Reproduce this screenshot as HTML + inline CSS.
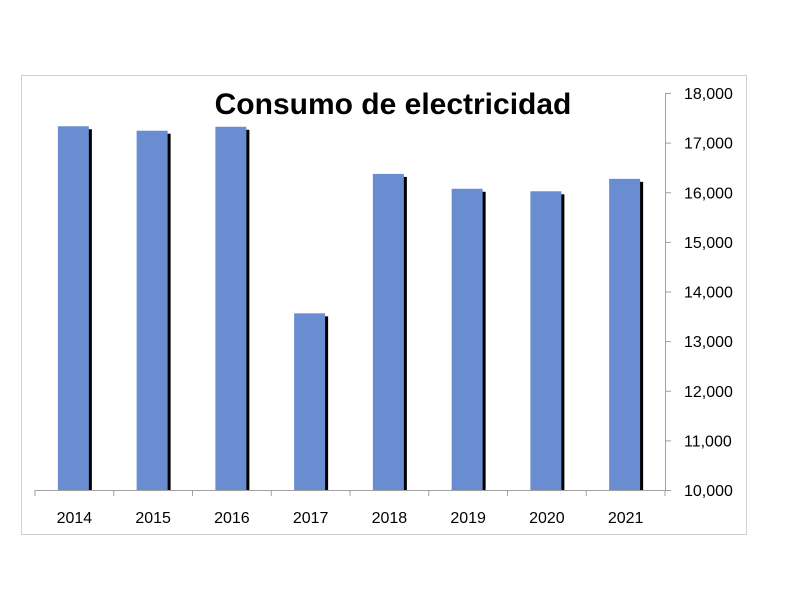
<!DOCTYPE html>
<html><head><meta charset="utf-8"><style>
body{margin:0;background:#fff;}
svg{display:block;font-family:"Liberation Sans",Calibri,sans-serif;}
</style></head><body>
<svg width="792" height="612">
<rect x="21.5" y="75.5" width="725" height="459" fill="#fff" stroke="#d0d0d0"/>
<text x="393" y="114" text-anchor="middle" font-size="30" font-weight="bold" fill="#000">Consumo de electricidad</text>
<g id="bars"></g>
<g id="axes"></g>
</svg>
<script>
const categories=["2014","2015","2016","2017","2018","2019","2020","2021"];
const values=[17330,17240,17320,13560,16370,16070,16020,16270];
const yTicks=[10000,11000,12000,13000,14000,15000,16000,17000,18000];
const NS="http://www.w3.org/2000/svg";
const x0=35,x1=665,yBase=490,yTop=93,vMin=10000,vMax=18000;
const bw=(x1-x0)/categories.length;
function yScale(v){return yBase-(v-vMin)/(vMax-vMin)*(yBase-yTop);}
function xCenter(i){return x0+bw*(i+0.5);}
function mk(t,a){const e=document.createElementNS(NS,t);for(const k in a)e.setAttribute(k,a[k]);return e;}
const bars=document.getElementById('bars'),axes=document.getElementById('axes');
values.forEach((v,i)=>{
 const cx=xCenter(i)-1,w=31,y=yScale(v);
 const s=mk('rect',{x:cx-w/2+3,y:y+3,width:w,height:yBase-y-3,fill:'#000'});
 
 
 bars.appendChild(s);
 const r=mk('rect',{x:cx-w/2,y:y,width:w,height:yBase-y,fill:'#6a8dd2'});
 
 
 bars.appendChild(r);
 const t=mk('text',{x:xCenter(i),y:523,'text-anchor':'middle','font-size':'16',fill:'#000'});
 t.textContent=categories[i];
 
 
 axes.appendChild(t);
});
const xa=mk('line',{x1:x0,y1:yBase+0.5,x2:x1,y2:yBase+0.5,stroke:'#a0a0a0'});


axes.appendChild(xa);
for(let i=0;i<=categories.length;i++){
 const tk=mk('line',{x1:x0+bw*i,y1:yBase,x2:x0+bw*i,y2:yBase+6,stroke:'#a0a0a0'});
 
 
 axes.appendChild(tk);
}
const ya=mk('line',{x1:x1+0.5,y1:yTop,x2:x1+0.5,y2:yBase,stroke:'#a0a0a0'});


axes.appendChild(ya);
yTicks.forEach(v=>{
 const y=yScale(v);
 const tk=mk('line',{x1:x1,y1:y+0.5,x2:x1+6,y2:y+0.5,stroke:'#a0a0a0'});
 
 
 axes.appendChild(tk);
 const t=mk('text',{x:684,y:y+6,'font-size':'16',fill:'#000'});
 t.textContent=v.toLocaleString('en-US');
 
 
 axes.appendChild(t);
});
</script>
</body></html>
